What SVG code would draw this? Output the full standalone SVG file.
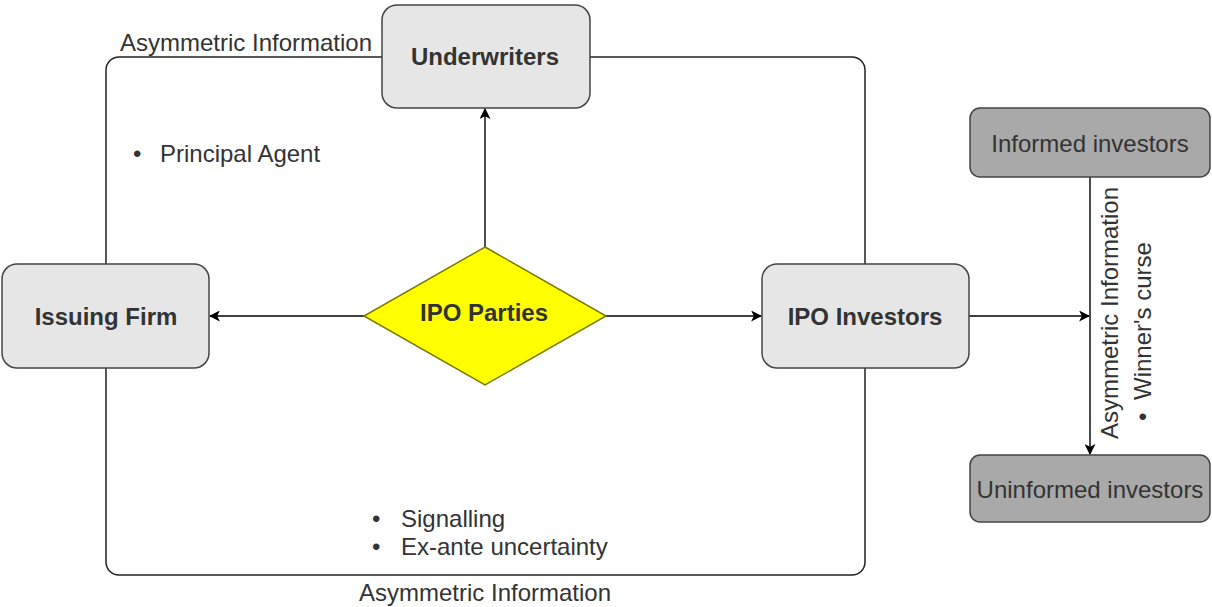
<svg xmlns="http://www.w3.org/2000/svg" width="1212" height="607" viewBox="0 0 1212 607">
  <style>
    .lbl { font-family: "Liberation Sans", Arial, sans-serif; font-size: 24px; fill: #333; }
    .bold { font-family: "Liberation Sans", Arial, sans-serif; font-size: 24px; font-weight: bold; fill: #333; }
    .box { fill: #e6e6e6; stroke: #444; stroke-width: 1.5; }
    .dark { fill: #a9a9a9; stroke: #444; stroke-width: 1.5; }
    .edge { fill: none; stroke: #000; stroke-width: 1.4; }
  </style>
  <defs>
    <marker id="arrow" viewBox="0 0 10 10" refX="9" refY="5" markerWidth="11" markerHeight="11" markerUnits="userSpaceOnUse" orient="auto">
      <path d="M0,0 L10,5 L0,10 L2.5,5 Z" fill="#000"/>
    </marker>
  </defs>
  <rect width="1212" height="607" fill="#fff"/>

  <!-- surrounding frame -->
  <g id="frame">
    <rect x="106" y="57" width="759" height="518" rx="13" fill="none" stroke="#222" stroke-width="1.5"/>
  </g>

  <!-- connectors -->
  <g id="connectors">
    <path class="edge" d="M485,247 L485,109" marker-end="url(#arrow)"/>
    <path class="edge" d="M364,316 L210,316" marker-end="url(#arrow)"/>
    <path class="edge" d="M606,316 L761,316" marker-end="url(#arrow)"/>
    <path class="edge" d="M969,316 L1089,316" marker-end="url(#arrow)"/>
    <path class="edge" d="M1090,177 L1090,454" marker-end="url(#arrow)"/>
  </g>

  <g id="underwriters">
    <rect class="box" x="382" y="5" width="208" height="103" rx="15" stroke="#333"/>
    <text class="bold" x="485" y="65" text-anchor="middle">Underwriters</text>
  </g>

  <g id="issuing-firm">
    <rect class="box" x="2" y="264" width="207" height="104" rx="15" stroke="#777"/>
    <text class="bold" x="106" y="325" text-anchor="middle">Issuing Firm</text>
  </g>

  <g id="ipo-parties">
    <polygon points="485,247 606,316 485,385 364,316" fill="#ffff00" stroke="#7a7a00" stroke-width="1.5"/>
    <text class="bold" x="484" y="321" text-anchor="middle" fill="#222">IPO Parties</text>
  </g>

  <g id="ipo-investors">
    <rect class="box" x="762" y="264" width="207" height="104" rx="15"/>
    <text class="bold" x="865" y="325" text-anchor="middle">IPO Investors</text>
  </g>

  <g id="informed-investors">
    <rect class="dark" x="970" y="108" width="240" height="69" rx="10"/>
    <text class="lbl" x="1090" y="152" text-anchor="middle">Informed investors</text>
  </g>

  <g id="uninformed-investors">
    <rect class="dark" x="970" y="455" width="240" height="67" rx="10"/>
    <text class="lbl" x="1090" y="498" text-anchor="middle">Uninformed investors</text>
  </g>

  <!-- annotations -->
  <g id="annotations">
    <text class="lbl" x="120" y="51">Asymmetric Information</text>
    <text class="lbl" x="133" y="162">•</text>
    <text class="lbl" x="160" y="162">Principal Agent</text>
    <text class="lbl" x="372" y="527">•</text>
    <text class="lbl" x="401" y="527">Signalling</text>
    <text class="lbl" x="372" y="555">•</text>
    <text class="lbl" x="401" y="555">Ex-ante uncertainty</text>
    <text class="lbl" x="485" y="601" text-anchor="middle">Asymmetric Information</text>
    <text class="lbl" transform="translate(1118,313) rotate(-90)" text-anchor="middle">Asymmetric Information</text>
    <text class="lbl" transform="translate(1151,421) rotate(-90)">•</text>
    <text class="lbl" transform="translate(1151,400) rotate(-90)">Winner's curse</text>
  </g>
</svg>
